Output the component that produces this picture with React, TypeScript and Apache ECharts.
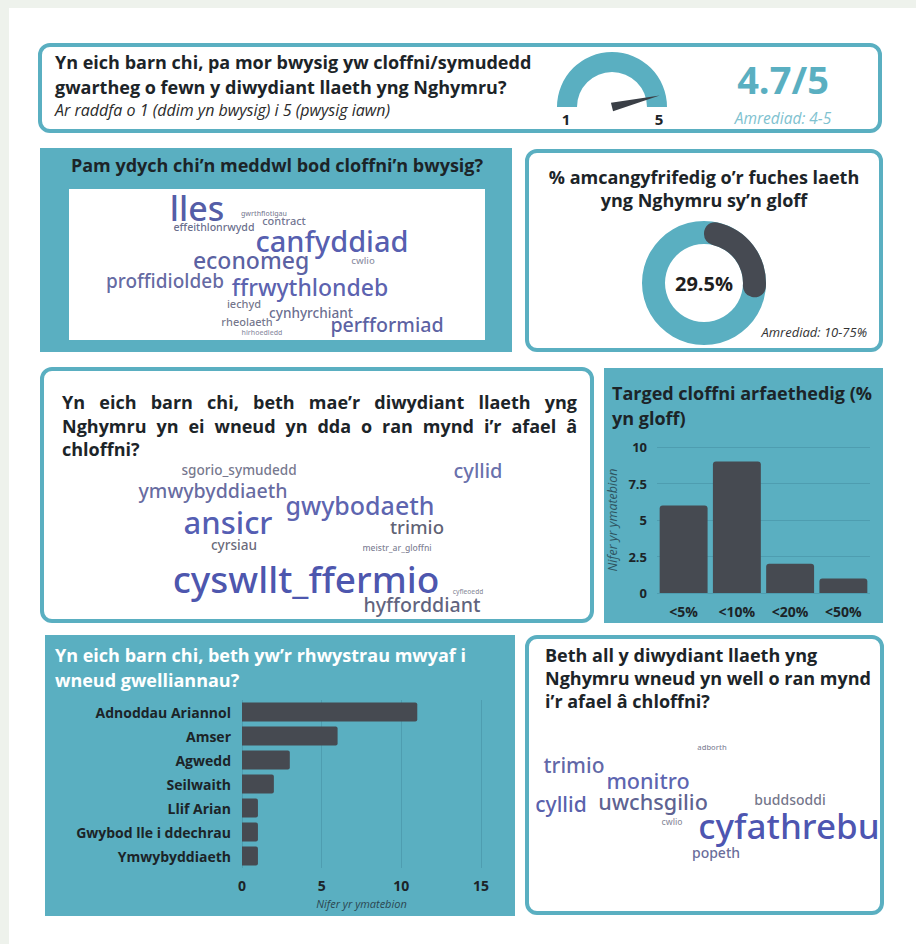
import React, { useEffect, useRef } from "react";
import * as echarts from "echarts";

// ---------------- data ----------------
const GAUGE_MIN = 1;
const GAUGE_MAX = 5;
const IMPORTANCE_SCORE = 4.7;
const IMPORTANCE_RANGE = "4-5";

const LAME_PCT = 29.5;
const LAME_RANGE = "10-75%";

const TARGET_CATS = ["<5%", "<10%", "<20%", "<50%"];
const TARGET_VALUES = [6, 9, 2, 1];
const TARGET_MAX = 10;
const TARGET_STEP = 2.5;

const BARRIER_CATS = [
  "Adnoddau Ariannol",
  "Amser",
  "Agwedd",
  "Seilwaith",
  "Llif Arian",
  "Gwybod lle i ddechrau",
  "Ymwybyddiaeth",
];
const BARRIER_VALUES = [11, 6, 3, 2, 1, 1, 1];
const BARRIER_MAX = 15;
const BARRIER_STEP = 5;

const WHY_WORDS = [
  "lles", "gwrthfiotigau", "effeithlonrwydd", "contract", "canfyddiad", "economeg", "cwlio",
  "proffidioldeb", "ffrwythlondeb", "iechyd", "cynhyrchiant", "rheolaeth", "perfformiad", "hirhoedledd",
];
const WHY_WEIGHTS = [15, 1.5, 3.3, 3.5, 12.5, 9.5, 2.8, 7.5, 9.5, 3.5, 4.8, 3.5, 7.8, 1.5];

const GOOD_WORDS = [
  "sgorio_symudedd", "cyllid", "ymwybyddiaeth", "gwybodaeth", "ansicr", "trimio", "cyrsiau",
  "meistr_ar_gloffni", "cyswllt_ffermio", "cyfleoedd", "hyfforddiant",
];
const GOOD_WEIGHTS = [4.8, 8, 7.8, 10.5, 13.5, 7.3, 4.8, 2.3, 16.5, 1.3, 7.8];

const BETTER_WORDS = [
  "adborth", "trimio", "monitro", "cyllid", "uwchsgilio", "buddsoddi", "cwlio", "cyfathrebu", "popeth",
];
const BETTER_WEIGHTS = [1.8, 8.5, 8.8, 8.5, 8.8, 5, 2.3, 15.5, 5];

// ---------------- layout (word-cloud placement & colours) ----------------
const WHY_POS = [
  [128, 19], [195, 24], [145, 38], [215, 31], [263, 51], [182, 71], [294, 71],
  [96, 92], [241, 98], [175, 114], [242, 123], [178, 132], [318, 135], [193, 143],
];
const WHY_COLORS = [
  "#26318f", "#5c5f7c", "#42476e", "#4c5074", "#28339a", "#2f378a", "#70738c",
  "#3c428a", "#30389a", "#4f526e", "#434773", "#4f526e", "#30378a", "#70738c",
];
const GOOD_POS = [
  [177, 9], [416, 10], [151, 30], [298, 45], [166, 62], [355, 66], [172, 84],
  [335, 88], [244, 118], [406, 131], [360, 144],
];
const GOOD_COLORS = [
  "#515470", "#414a96", "#3e4488", "#313a9a", "#26329e", "#35384f", "#424458",
  "#5e6078", "#1c2898", "#707286", "#36395c",
];
const BETTER_POS = [
  [182, 12], [44, 30], [118, 45], [31, 69], [123, 66], [260, 64], [142, 87], [259, 90], [186, 117],
];
const BETTER_COLORS = [
  "#62647c", "#373e90", "#323b9c", "#2d3696", "#333874", "#4f516c", "#6f7186", "#1c279c", "#414580",
];

const TEAL = "#5aafc1";
const GRIDLINE = "#4e9db0";
const BAR = "#464a51";
const DARK = "#1c2428";
const FONT = '"Open Sans", "Noto Sans", sans-serif';
const CLOUD_FONT = '"Noto Sans", sans-serif';

const sizeOf = (w: number) => 4 + 2 * w;

function txt(text: string, x: number, y: number, opts: any = {}) {
  const size = opts.size ?? 18;
  const weight = opts.weight ?? "bold";
  const style = opts.italic ? "italic " : "";
  return {
    type: "text",
    x,
    y,
    z: 20,
    silent: true,
    style: {
      text,
      fill: opts.color ?? DARK,
      font: `${style}${weight} ${size}px ${FONT}`,
      textAlign: opts.align ?? "left",
      textVerticalAlign: "middle",
    },
  };
}

function justified(line: string, x0: number, x1: number, y: number, size: number) {
  const ctx = document.createElement("canvas").getContext("2d")!;
  ctx.font = `bold ${size}px ${FONT}`;
  const words = line.split(" ");
  const widths = words.map((w) => ctx.measureText(w).width);
  const total = widths.reduce((a, b) => a + b, 0);
  const gap = (x1 - x0 - total) / (words.length - 1);
  let x = x0;
  return words.map((w, i) => {
    const el = txt(w, x, y, { size });
    x += widths[i] + gap;
    return el;
  });
}

function panelBorder(x: number, y: number, w: number, h: number) {
  return {
    type: "rect",
    z: -5,
    silent: true,
    shape: { x, y, width: w, height: h, r: 10 },
    style: { fill: "#ffffff", stroke: TEAL, lineWidth: 4 },
  };
}
function panelFill(x: number, y: number, w: number, h: number) {
  return {
    type: "rect",
    z: -5,
    silent: true,
    shape: { x, y, width: w, height: h },
    style: { fill: TEAL },
  };
}

function cloudSeries(words: string[], weights: number[], pos: number[][], colors: string[], idx: number) {
  return {
    type: "scatter",
    xAxisIndex: idx,
    yAxisIndex: idx,
    symbolSize: 1,
    silent: true,
    itemStyle: { color: "rgba(0,0,0,0)" },
    label: { show: true, position: "inside", formatter: "{b}", fontFamily: CLOUD_FONT, fontWeight: 500 },
    data: words.map((w, i) => {
      const fs = sizeOf(weights[i]);
      return {
        name: w,
        value: pos[i],
        label: { fontSize: fs, lineHeight: Math.round(fs * 0.75), color: colors[i] },
      };
    }),
  };
}

const CLOUD_BOXES = [
  { left: 69, top: 189, width: 416, height: 151 },
  { left: 62, top: 460, width: 515, height: 155 },
  { left: 530, top: 735, width: 350, height: 135 },
];

export default function App() {
  const ref = useRef<HTMLDivElement>(null);

  useEffect(() => {
    document.body.style.margin = "0";
    if (!ref.current) return;
    const chart = echarts.init(ref.current, undefined, { renderer: "svg" });

    const grids: any[] = CLOUD_BOXES.map((b) => ({ ...b, outerBoundsMode: "none" }));
    grids.push({ left: 657, top: 447, width: 213, height: 146, outerBoundsMode: "none" });
    grids.push({ left: 242, top: 700, width: 239, height: 168, outerBoundsMode: "none" });

    const xAxes: any[] = CLOUD_BOXES.map((b, i) => ({
      type: "value", gridIndex: i, min: 0, max: b.width, show: false,
    }));
    const yAxes: any[] = CLOUD_BOXES.map((b, i) => ({
      type: "value", gridIndex: i, min: 0, max: b.height, inverse: true, show: false,
    }));

    const axisLabelStyle = { color: DARK, fontWeight: "bold", fontFamily: FONT, fontSize: 14 };

    // target bars (grid 3)
    xAxes.push({
      type: "category",
      gridIndex: 3,
      data: TARGET_CATS,
      axisLine: { show: false },
      axisTick: { show: false },
      axisLabel: { ...axisLabelStyle, margin: 11 },
    });
    yAxes.push({
      type: "value",
      gridIndex: 3,
      min: 0,
      max: TARGET_MAX,
      interval: TARGET_STEP,
      axisLine: { show: false },
      axisTick: { show: false },
      axisLabel: { ...axisLabelStyle, fontSize: 13, margin: 10 },
      splitLine: { lineStyle: { color: GRIDLINE, width: 1 } },
      name: "Nifer yr ymatebion",
      nameLocation: "middle",
      nameGap: 38,
      nameTextStyle: { color: "#2e5561", fontStyle: "italic", fontSize: 12.5, fontFamily: FONT },
    });

    // barriers (grid 4)
    xAxes.push({
      type: "value",
      gridIndex: 4,
      min: 0,
      max: BARRIER_MAX,
      interval: BARRIER_STEP,
      axisLine: { show: false },
      axisTick: { show: false },
      axisLabel: { ...axisLabelStyle, margin: 10 },
      splitLine: { lineStyle: { color: GRIDLINE, width: 1 } },
      name: "Nifer yr ymatebion",
      nameLocation: "middle",
      nameGap: 30,
      nameTextStyle: { color: "#2a4650", fontStyle: "italic", fontSize: 11, fontFamily: FONT },
    });
    yAxes.push({
      type: "category",
      gridIndex: 4,
      data: BARRIER_CATS,
      inverse: true,
      axisLine: { show: false },
      axisTick: { show: false },
      axisLabel: { ...axisLabelStyle, margin: 11 },
    });

    const graphic: any[] = [
      { type: "rect", z: -10, silent: true, shape: { x: 0, y: 0, width: 916, height: 944 }, style: { fill: "#eef2ec" } },
      { type: "rect", z: -9, silent: true, shape: { x: 9, y: 8, width: 907, height: 936 }, style: { fill: "#ffffff" } },
      panelBorder(40, 45, 840, 86),
      panelFill(40, 148, 472, 204),
      { type: "rect", z: -4, silent: true, shape: { x: 69, y: 189, width: 416, height: 151 }, style: { fill: "#ffffff" } },
      panelBorder(527, 151, 354, 199),
      panelBorder(42, 369, 550, 252),
      panelFill(604, 368, 279, 255),
      panelFill(45, 635, 470, 281),
      panelBorder(527, 637, 355, 276),

      // panel 1
      txt("Yn eich barn chi, pa mor bwysig yw cloffni/symudedd", 55, 62, { size: 18 }),
      txt("gwartheg o fewn y diwydiant llaeth yng Nghymru?", 55, 87, { size: 18 }),
      txt("Ar raddfa o 1 (ddim yn bwysig) i 5 (pwysig iawn)", 55, 110, { size: 16, italic: true, weight: "normal", color: "#2b2b2b" }),
      txt(String(GAUGE_MIN), 566, 119, { size: 15, align: "center" }),
      txt(String(GAUGE_MAX), 659, 119, { size: 15, align: "center" }),
      txt(`Amrediad: ${IMPORTANCE_RANGE}`, 783, 118, { size: 15.5, italic: true, weight: "normal", color: "#80c2d0", align: "center" }),

      // panel 2
      txt("Pam ydych chi’n meddwl bod cloffni’n bwysig?", 277, 165, { size: 18, align: "center" }),

      // panel 3
      txt("% amcangyfrifedig o’r fuches laeth", 704, 177, { size: 18, align: "center" }),
      txt("yng Nghymru sy’n gloff", 704, 200, { size: 18, align: "center" }),
      txt(`Amrediad: ${LAME_RANGE}`, 867, 332, { size: 13, italic: true, weight: "normal", color: "#333333", align: "right" }),

      // panel 4
      ...justified("Yn eich barn chi, beth mae’r diwydiant llaeth yng", 62, 577, 402, 18),
      ...justified("Nghymru yn ei wneud yn dda o ran mynd i’r afael â", 62, 577, 426, 18),
      txt("chloffni?", 62, 449, { size: 18 }),

      // panel 5
      txt("Targed cloffni arfaethedig (%", 612, 393, { size: 18 }),
      txt("yn gloff)", 612, 418, { size: 18 }),

      // panel 6
      txt("Yn eich barn chi, beth yw’r rhwystrau mwyaf i", 55, 655, { size: 18, color: "#ffffff" }),
      txt("wneud gwelliannau?", 55, 680, { size: 18, color: "#ffffff" }),

      // panel 7
      txt("Beth all y diwydiant llaeth yng", 545, 655, { size: 18 }),
      txt("Nghymru wneud yn well o ran mynd", 545, 678, { size: 18 }),
      txt("i’r afael â chloffni?", 545, 701, { size: 18 }),
    ];

    const option: any = {
      animation: false,
      backgroundColor: "transparent",
      graphic,
      grid: grids,
      xAxis: xAxes,
      yAxis: yAxes,
      series: [
        cloudSeries(WHY_WORDS, WHY_WEIGHTS, WHY_POS, WHY_COLORS, 0),
        cloudSeries(GOOD_WORDS, GOOD_WEIGHTS, GOOD_POS, GOOD_COLORS, 1),
        cloudSeries(BETTER_WORDS, BETTER_WEIGHTS, BETTER_POS, BETTER_COLORS, 2),
        {
          type: "bar",
          xAxisIndex: 3,
          yAxisIndex: 3,
          data: TARGET_VALUES,
          barCategoryGap: "10%",
          itemStyle: { color: BAR, borderRadius: [3, 3, 0, 0] },
          silent: true,
        },
        {
          type: "bar",
          xAxisIndex: 4,
          yAxisIndex: 4,
          data: BARRIER_VALUES,
          barCategoryGap: "20%",
          itemStyle: { color: BAR, borderRadius: [0, 2, 2, 0] },
          silent: true,
        },
        {
          type: "gauge",
          center: [612, 107],
          radius: 55,
          startAngle: 180,
          endAngle: 0,
          min: GAUGE_MIN,
          max: GAUGE_MAX,
          axisLine: { lineStyle: { width: 20, color: [[1, TEAL]] } },
          splitLine: { show: false },
          axisTick: { show: false },
          axisLabel: { show: false },
          progress: { show: false },
          pointer: { show: true, icon: "triangle", length: 49, width: 9, offsetCenter: [0, 0], itemStyle: { color: "#3a3f46" } },
          anchor: { show: false },
          title: { show: false },
          detail: {
            show: true,
            offsetCenter: [171, -28],
            formatter: (v: number) => `${v}/${GAUGE_MAX}`,
            fontSize: 38,
            fontWeight: "bold",
            fontFamily: FONT,
            color: TEAL,
          },
          data: [{ value: IMPORTANCE_SCORE }],
        },
        {
          type: "pie",
          center: [704, 283],
          radius: [39, 62],
          silent: true,
          label: { show: false },
          labelLine: { show: false },
          itemStyle: { color: TEAL },
          data: [{ value: 100 }],
        },
        {
          type: "pie",
          center: [704, 283],
          radius: [39, 62],
          startAngle: 90,
          clockwise: true,
          silent: true,
          avoidLabelOverlap: false,
          labelLine: { show: false },
          data: [
            {
              value: LAME_PCT,
              itemStyle: { color: "#464a52", borderRadius: 11 },
              label: {
                show: true,
                position: "center",
                formatter: `${LAME_PCT}%`,
                fontSize: 20,
                fontWeight: "bold",
                fontFamily: FONT,
                color: "#1e1e1e",
              },
            },
            { value: 100 - LAME_PCT, itemStyle: { color: "rgba(0,0,0,0)" }, label: { show: false } },
          ],
        },
      ],
    };

    chart.setOption(option);
    return () => chart.dispose();
  }, []);

  return <div ref={ref} style={{ width: 916, height: 944 }} />;
}
